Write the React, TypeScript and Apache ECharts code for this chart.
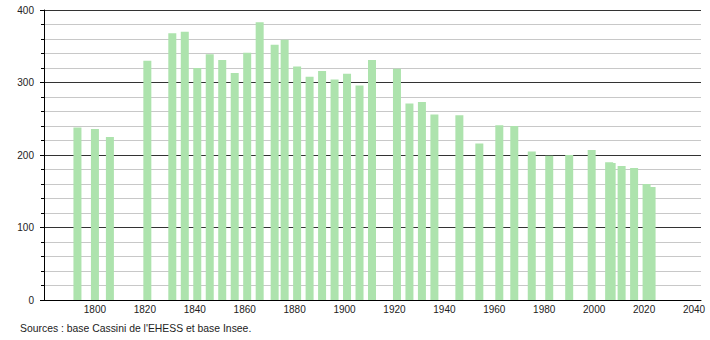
import React, { useEffect, useRef } from "react";
import * as echarts from "echarts";

const years = [1793, 1800, 1806, 1821, 1831, 1836, 1841, 1846, 1851, 1856, 1861, 1866, 1872, 1876, 1881, 1886, 1891, 1896, 1901, 1906, 1911, 1921, 1926, 1931, 1936, 1946, 1954, 1962, 1968, 1975, 1982, 1990, 1999, 2006, 2007, 2011, 2016, 2021, 2023];
const population = [238, 236, 225, 330, 368, 370, 320, 339, 331, 313, 341, 383, 352, 359, 322, 308, 316, 304, 312, 296, 331, 319, 271, 273, 256, 255, 216, 241, 240, 205, 199, 200, 207, 190, 189, 185, 182, 160, 156];
const xTickLabels = [1800, 1820, 1840, 1860, 1880, 1900, 1920, 1940, 1960, 1980, 2000, 2020, 2040];
const sourceText = "Sources : base Cassini de l'EHESS et base Insee.";

export default function App() {
  const ref = useRef<HTMLDivElement>(null);
  useEffect(() => {
    if (!ref.current) return;
    const chart = echarts.init(ref.current, undefined, { renderer: "svg" });
    const font = "Liberation Sans, Arial, sans-serif";
    chart.setOption({
      animation: false,
      grid: { left: 44, right: 9, top: 10, bottom: 40 },
      xAxis: {
        type: "value",
        min: 1779.6,
        max: 2042.8,
        axisLine: { show: true, lineStyle: { color: "#000", width: 1 } },
        axisTick: { show: false },
        splitLine: { show: false },
        axisLabel: {
          customValues: xTickLabels,
          formatter: (v: number) => String(v),
          color: "#222",
          fontSize: 10,
          fontFamily: font,
          margin: 4,
          showMaxLabel: true,
        },
      },
      yAxis: {
        type: "value",
        min: 0,
        max: 400,
        interval: 100,
        axisLine: { show: true, lineStyle: { color: "#000", width: 1 } },
        axisTick: { show: true, length: 4, lineStyle: { color: "#000" } },
        minorTick: { show: true, splitNumber: 5, length: 3, lineStyle: { color: "#000" } },
        splitLine: { show: true, lineStyle: { color: "#333", width: 1 } },
        minorSplitLine: { show: true, lineStyle: { color: "#c8c8c8", width: 1 } },
        axisLabel: { color: "#222", fontSize: 10, fontFamily: font, margin: 10 },
      },
      series: [
        {
          type: "bar",
          barWidth: 8,
          itemStyle: { color: "#ade3ad" },
          data: years.map((y, i) => [y, population[i]]),
        },
      ],
      graphic: [
        {
          type: "text",
          left: 20,
          top: 323,
          style: { text: sourceText, fill: "#222", fontSize: 10.4, fontFamily: font },
        },
      ],
    });
    return () => chart.dispose();
  }, []);
  return <div ref={ref} style={{ position: "absolute", left: 0, top: 0, width: 710, height: 340 }} />;
}
